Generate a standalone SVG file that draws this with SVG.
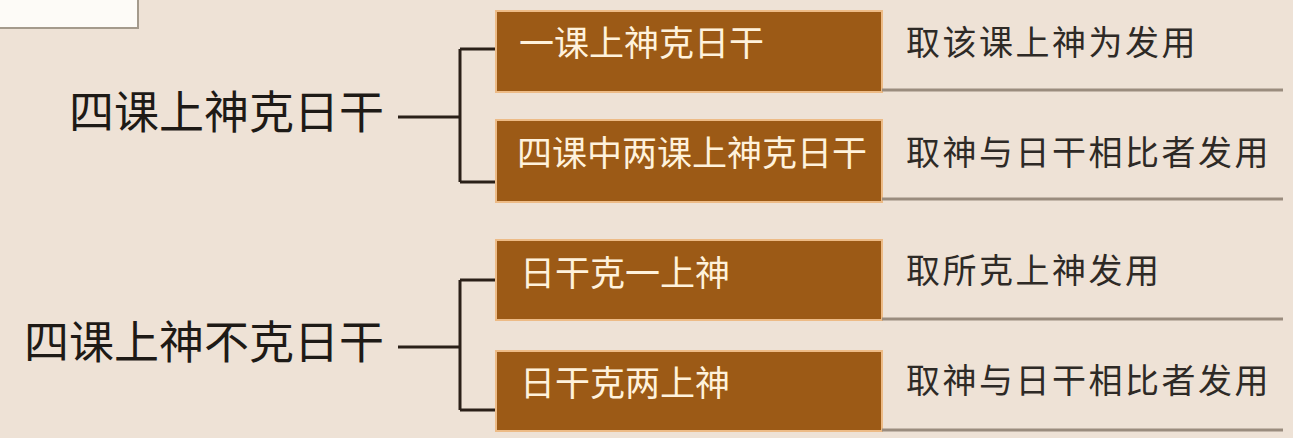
<svg xmlns="http://www.w3.org/2000/svg" width="1293" height="438" viewBox="0 0 1293 438">
<style>
.bg{fill:#EEE2D6}
.box{fill:#9C5A16;stroke:#EDBB86;stroke-width:2}
.bt{fill:#FFF2DC;font-family:"Noto Sans CJK SC",sans-serif;font-size:35px;dominant-baseline:central}
.rt{fill:#2E2A26;font-family:"Noto Sans CJK SC",sans-serif;font-size:34px;letter-spacing:2.5px;dominant-baseline:central}
.lt{fill:#1E1A16;font-family:"Noto Sans CJK SC",sans-serif;font-size:45px;dominant-baseline:central;text-anchor:end}
.ul{stroke:#9A8C7E;stroke-width:3;fill:none}
.cn{stroke:#2A2018;stroke-width:3;fill:none}
</style>
<rect class="bg" x="0" y="0" width="1293" height="438"/>
<g id="corner">
<rect x="-2" y="-2" width="140" height="30" fill="#FDFBF7" stroke="#A49A8C" stroke-width="2"/>
</g>
<g id="connectors">
<path class="cn" d="M398 117 H460 M460 49 V182 M460 49 H496 M460 182 H496"/>
<path class="cn" d="M398 347 H460 M460 280 V410 M460 280 H496 M460 410 H496"/>
</g>
<g id="root1"><text class="lt" x="384" y="109">四课上神克日干</text></g>
<g id="root2"><text class="lt" x="384" y="339">四课上神不克日干</text></g>
<g id="n1">
<rect class="box" x="496" y="11" width="386" height="81"/>
<text class="bt" x="519" y="40">一课上神克日干</text>
</g>
<g id="n2">
<rect class="box" x="496" y="120" width="386" height="82"/>
<text class="bt" x="517" y="150">四课中两课上神克日干</text>
</g>
<g id="n3">
<rect class="box" x="496" y="240" width="386" height="80"/>
<text class="bt" x="520" y="270">日干克一上神</text>
</g>
<g id="n4">
<rect class="box" x="496" y="351" width="386" height="80"/>
<text class="bt" x="520" y="380">日干克两上神</text>
</g>
<g id="r1">
<text class="rt" x="906" y="40">取该课上神为发用</text>
<line class="ul" x1="882" y1="90" x2="1283" y2="90"/>
</g>
<g id="r2">
<text class="rt" x="906" y="150">取神与日干相比者发用</text>
<line class="ul" x1="882" y1="199" x2="1283" y2="199"/>
</g>
<g id="r3">
<text class="rt" x="906" y="268">取所克上神发用</text>
<line class="ul" x1="882" y1="319" x2="1283" y2="319"/>
</g>
<g id="r4">
<text class="rt" x="906" y="378">取神与日干相比者发用</text>
<line class="ul" x1="882" y1="430" x2="1283" y2="430"/>
</g>
</svg>
